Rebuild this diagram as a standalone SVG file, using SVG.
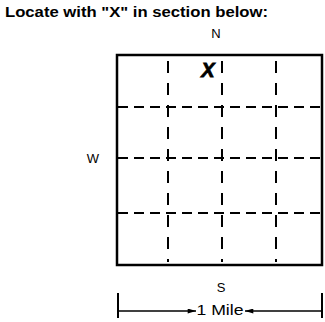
<svg xmlns="http://www.w3.org/2000/svg" width="325" height="322" viewBox="0 0 325 322">
<style>
text{font-family:"Liberation Sans",Arial,sans-serif;fill:#000}
.title{font-size:14px;font-weight:bold}
.dir{font-size:13px}
.dash{stroke:#000;stroke-width:2;fill:none}
.h{stroke-dasharray:10 6}
.v{stroke-dasharray:12 10}
.solid{stroke:#000;fill:none}
</style>
<defs>
<marker id="ah" viewBox="0 0 10 6" refX="10" refY="3" markerWidth="10" markerHeight="5" markerUnits="userSpaceOnUse" orient="auto">
<path d="M0,0 L10,3 L0,6 z" fill="#000"/>
</marker>
</defs>
<g id="title"><text class="title" x="5" y="17" textLength="263" lengthAdjust="spacingAndGlyphs">Locate with "X" in section below:</text></g>
<g id="north"><text class="dir" x="216" y="38" text-anchor="middle">N</text></g>
<g id="west"><text class="dir" x="93" y="163" text-anchor="middle">W</text></g>
<g id="south"><text class="dir" x="221" y="292" text-anchor="middle">S</text></g>
<g id="section">
<rect x="117" y="55" width="205" height="210" class="solid" stroke-width="2.5"/>
<g id="grid">
<line x1="118" y1="107" x2="321" y2="107" class="dash h"/>
<line x1="118" y1="158" x2="321" y2="158" class="dash h"/>
<line x1="118" y1="213" x2="321" y2="213" class="dash h"/>
<line x1="168" y1="61" x2="168" y2="262" class="dash v"/>
<line x1="222" y1="61" x2="222" y2="262" class="dash v"/>
<line x1="276" y1="61" x2="276" y2="262" class="dash v"/>
</g>
</g>
<g id="mark"><text x="208" y="77" font-size="20" font-weight="bold" font-style="italic" text-anchor="middle" stroke="#000" stroke-width="0.8">X</text></g>
<g id="connectors">
<line x1="118" y1="293" x2="118" y2="318" class="solid" stroke-width="2"/>
<line x1="322" y1="293" x2="322" y2="318" class="solid" stroke-width="2"/>
<line x1="118" y1="311" x2="196" y2="311" class="solid" stroke-width="1.5" marker-end="url(#ah)"/>
<line x1="322" y1="311" x2="245" y2="311" class="solid" stroke-width="1.5" marker-end="url(#ah)"/>
</g>
<g id="scale"><text x="220" y="315" font-size="15" text-anchor="middle" textLength="47" lengthAdjust="spacingAndGlyphs">1 Mile</text></g>
</svg>
